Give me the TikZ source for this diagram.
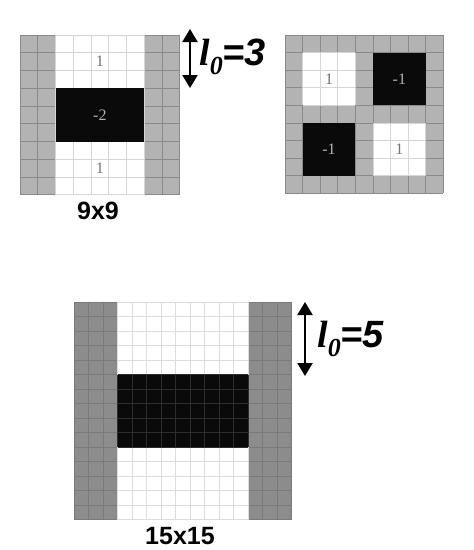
\documentclass[tikz,border=0pt]{standalone}
\usepackage{fontspec}
\setmainfont{Liberation Sans}
\newfontfamily\tnr{Liberation Serif}
\usetikzlibrary{arrows.meta}
\definecolor{gfill}{HTML}{B3B3B3}
\definecolor{gline}{HTML}{8A8A8A}
\definecolor{wline}{HTML}{D6D6D6}
\definecolor{dfill}{HTML}{8C8C8C}
\definecolor{dline}{HTML}{7A7A7A}
\definecolor{bfill}{HTML}{0A0A0A}
\definecolor{bline}{HTML}{2E2E2E}
\newcommand\cellgrid[8]{%
  \foreach \k in {#5,...,#6} \draw[#1] ({#2+\k*#4},{#3+#7*#4}) -- ({#2+\k*#4},{#3+#8*#4});
  \foreach \k in {#7,...,#8} \draw[#1] ({#2+#5*#4},{#3+\k*#4}) -- ({#2+#6*#4},{#3+\k*#4});
}
\tikzset{
  dbl/.style={line width=2pt,{Triangle[width=15pt,length=13pt]}-{Triangle[width=15pt,length=13pt]}},
  lab/.style={inner sep=0pt,font=\fontsize{38}{40}\selectfont\bfseries\itshape},
  size/.style={inner sep=0pt,font=\fontsize{25}{28}\selectfont\bfseries},
  cellnum/.style={inner sep=0pt,font=\tnr\fontsize{16}{17}\selectfont},
}
\begin{document}
\begin{tikzpicture}[x=1pt,y=-1pt]
\useasboundingbox (0,0) rectangle (474,550);
% ---------- grid 1 (9x9) ----------
\def\s{17.75}
\fill[gfill] (20,35) rectangle ({20+9*\s},{35+9*\s});
\cellgrid{gline,line width=1pt}{20}{35}{\s}{0}{9}{0}{9}
\fill[white] ({20+2*\s},35) rectangle ({20+7*\s},{35+9*\s});
\cellgrid{wline,line width=1pt}{20}{35}{\s}{2}{7}{0}{9}
\fill[bfill] ({20+2*\s},{35+3*\s}) rectangle ({20+7*\s},{35+6*\s});
\node[cellnum,text=gray!90!black] (g1a) at ({20+4.5*\s},{35+1.5*\s}) {1};
\node[cellnum,text=gray!60] (g1b) at ({20+4.5*\s},{35+4.5*\s}) {-2};
\node[cellnum,text=gray!90!black] (g1c) at ({20+4.5*\s},{35+7.5*\s}) {1};
% ---------- grid 2 (9x9) ----------
\def\t{17.6}
\fill[gfill] (285,35) rectangle ({285+9*\t},{35+9*\t});
\cellgrid{gline,line width=1pt}{285}{35}{\t}{0}{9}{0}{9}
\fill[white] ({285+1*\t},{35+1*\t}) rectangle ({285+4*\t},{35+4*\t});
\cellgrid{wline,line width=1pt}{285}{35}{\t}{1}{4}{1}{4}
\fill[white] ({285+5*\t},{35+5*\t}) rectangle ({285+8*\t},{35+8*\t});
\cellgrid{wline,line width=1pt}{285}{35}{\t}{5}{8}{5}{8}
\fill[bfill] ({285+5*\t},{35+1*\t}) rectangle ({285+8*\t},{35+4*\t});
\fill[bfill] ({285+1*\t},{35+5*\t}) rectangle ({285+4*\t},{35+8*\t});
\node[cellnum,text=gray!90!black] (g2a) at ({285+2.5*\t},{35+2.5*\t}) {1};
\node[cellnum,text=gray!60] (g2b) at ({285+6.5*\t},{35+2.5*\t}) {-1};
\node[cellnum,text=gray!60] (g2c) at ({285+2.5*\t},{35+6.5*\t}) {-1};
\node[cellnum,text=gray!90!black] (g2d) at ({285+6.5*\t},{35+6.5*\t}) {1};
% ---------- grid 3 (15x15) ----------
\def\u{14.5}
\fill[dfill] (74,302) rectangle ({74+15*\u},{302+15*\u});
\cellgrid{dline,line width=1pt}{74}{302}{\u}{0}{15}{0}{15}
\fill[white] ({74+3*\u},302) rectangle ({74+12*\u},{302+15*\u});
\cellgrid{wline!85,line width=1pt}{74}{302}{\u}{3}{12}{0}{15}
\fill[bfill] ({74+3*\u},{302+5*\u}) rectangle ({74+12*\u},{302+10*\u});
\cellgrid{bline,line width=0.8pt}{74}{302}{\u}{3}{12}{5}{10}
% ---------- labels ----------
\node[size] (n9) at (98,211) {9x9};
\node[size] (n15) at (180,536) {15x15};
\coordinate (a1t) at (190,29);
\coordinate (a1b) at (190,88);
\draw[dbl] (a1t) -- (a1b);
\node[lab,anchor=west] (l3) at (199,57) {{\tnr l}\raisebox{-0.25em}{\fontsize{26}{28}\selectfont\tnr 0}=3};
\coordinate (a2t) at (305,302);
\coordinate (a2b) at (305,376);
\draw[dbl] (a2t) -- (a2b);
\node[lab,anchor=west] (l5) at (317,339) {{\tnr l}\raisebox{-0.25em}{\fontsize{26}{28}\selectfont\tnr 0}=5};
\end{tikzpicture}
\end{document}
